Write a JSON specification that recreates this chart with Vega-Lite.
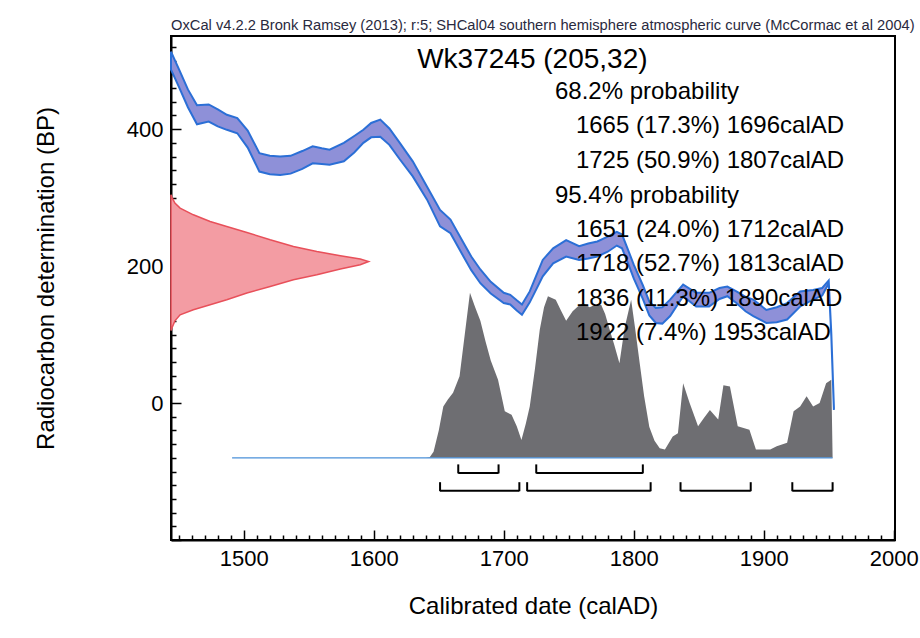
{
  "$schema": "https://vega.github.io/schema/vega-lite/v6.json",
  "autosize": {"type": "none"},
  "width": 724,
  "height": 504,
  "padding": {"left": 171, "top": 36, "right": 25, "bottom": 98},
  "background": "white",
  "title": {
    "text": "OxCal v4.2.2 Bronk Ramsey (2013); r:5; SHCal04 southern hemisphere atmospheric curve (McCormac et al 2004)",
    "anchor": "start", "frame": "group", "fontSize": 14.7, "fontWeight": "normal",
    "font": "Liberation Sans", "color": "#2a2a40", "offset": 3
  },
  "datasets": {
    "curve": [
      {"year":1444,"bp":487,"hi":513},{"year":1450,"bp":462,"hi":488},{"year":1457,"bp":432,"hi":458},
      {"year":1464,"bp":407,"hi":435},{"year":1473,"bp":411,"hi":436},{"year":1480,"bp":404,"hi":429},
      {"year":1487,"bp":399,"hi":421},{"year":1495,"bp":394,"hi":416},{"year":1503,"bp":373,"hi":398},
      {"year":1512,"bp":338,"hi":365},{"year":1520,"bp":334,"hi":361},{"year":1528,"bp":333,"hi":360},
      {"year":1536,"bp":335,"hi":361},{"year":1545,"bp":342,"hi":368},{"year":1553,"bp":350,"hi":375},
      {"year":1560,"bp":349,"hi":372},{"year":1566,"bp":348,"hi":370},{"year":1577,"bp":353,"hi":380},
      {"year":1585,"bp":366,"hi":390},{"year":1592,"bp":380,"hi":399},{"year":1598,"bp":388,"hi":409},
      {"year":1605,"bp":389,"hi":414},{"year":1612,"bp":377,"hi":401},{"year":1620,"bp":356,"hi":380},
      {"year":1630,"bp":331,"hi":353},{"year":1641,"bp":297,"hi":316},{"year":1651,"bp":258,"hi":282},
      {"year":1659,"bp":248,"hi":268},{"year":1669,"bp":214,"hi":234},{"year":1675,"bp":194,"hi":214},
      {"year":1682,"bp":175,"hi":195},{"year":1690,"bp":160,"hi":177},{"year":1700,"bp":146,"hi":161},
      {"year":1705,"bp":144,"hi":158},{"year":1710,"bp":135,"hi":150},{"year":1714,"bp":129,"hi":144},
      {"year":1720,"bp":147,"hi":163},{"year":1725,"bp":166,"hi":186},{"year":1730,"bp":185,"hi":209},
      {"year":1738,"bp":204,"hi":226},{"year":1748,"bp":214,"hi":238},{"year":1758,"bp":209,"hi":229},
      {"year":1765,"bp":211,"hi":233},{"year":1772,"bp":214,"hi":236},{"year":1780,"bp":221,"hi":243},
      {"year":1787,"bp":230,"hi":250},{"year":1791,"bp":226,"hi":246},{"year":1796,"bp":202,"hi":222},
      {"year":1800,"bp":182,"hi":202},{"year":1807,"bp":152,"hi":172},{"year":1812,"bp":128,"hi":148},
      {"year":1817,"bp":117,"hi":139},{"year":1822,"bp":116,"hi":140},{"year":1828,"bp":127,"hi":151},
      {"year":1838,"bp":156,"hi":173},{"year":1848,"bp":141,"hi":161},{"year":1858,"bp":141,"hi":161},
      {"year":1866,"bp":152,"hi":168},{"year":1872,"bp":156,"hi":170},{"year":1879,"bp":146,"hi":163},
      {"year":1886,"bp":134,"hi":155},{"year":1892,"bp":127,"hi":151},{"year":1902,"bp":117,"hi":136},
      {"year":1910,"bp":118,"hi":140},{"year":1918,"bp":122,"hi":146},{"year":1928,"bp":141,"hi":163},
      {"year":1938,"bp":151,"hi":165},{"year":1945,"bp":157,"hi":168},{"year":1950,"bp":175,"hi":179},
      {"year":1952,"bp":98,"hi":102},{"year":1954,"bp":-10,"hi":-6}
    ],
    "red": [
      {"bp":304,"year":1444},{"bp":300,"year":1444.8},{"bp":292,"year":1447},{"bp":284.7,"year":1451},
      {"bp":274.9,"year":1461.2},{"bp":265.1,"year":1474.1},{"bp":257.8,"year":1486.9},{"bp":249.1,"year":1502.4},
      {"bp":238.4,"year":1520.3},{"bp":228.6,"year":1538.2},{"bp":221.3,"year":1556.2},{"bp":215,"year":1574.3},
      {"bp":210.2,"year":1589.6},{"bp":206.7,"year":1596},{"bp":201.9,"year":1589.6},{"bp":195.6,"year":1574.3},
      {"bp":187.3,"year":1556.2},{"bp":180,"year":1538.2},{"bp":170.2,"year":1520.3},{"bp":160.6,"year":1502.4},
      {"bp":150.8,"year":1486.9},{"bp":143.5,"year":1474.1},{"bp":136.2,"year":1461.2},{"bp":128.9,"year":1451},
      {"bp":120,"year":1447},{"bp":110,"year":1444.8},{"bp":106,"year":1444}
    ],
    "gray": [
      {"year":1640,"bp":-80},{"year":1643,"bp":-79},{"year":1646,"bp":-71},{"year":1650,"bp":-40},
      {"year":1653.5,"bp":-5},{"year":1657,"bp":5},{"year":1661,"bp":15},{"year":1666,"bp":39},
      {"year":1670,"bp":100},{"year":1674,"bp":161},{"year":1678,"bp":140},{"year":1682,"bp":120},
      {"year":1686,"bp":90},{"year":1690,"bp":62},{"year":1695.6,"bp":34},{"year":1700.8,"bp":-12},
      {"year":1706,"bp":-17},{"year":1710,"bp":-34},{"year":1713.6,"bp":-54},{"year":1717,"bp":-30},
      {"year":1720,"bp":-5},{"year":1724,"bp":50},{"year":1727.7,"bp":107},{"year":1731,"bp":140},
      {"year":1734,"bp":156},{"year":1740,"bp":151},{"year":1744,"bp":135},{"year":1748,"bp":120},
      {"year":1753,"bp":134},{"year":1757,"bp":141},{"year":1761,"bp":146},{"year":1766,"bp":140},
      {"year":1770,"bp":143},{"year":1775,"bp":143},{"year":1778,"bp":130},{"year":1781.5,"bp":107},
      {"year":1785,"bp":85},{"year":1789,"bp":58},{"year":1793,"bp":110},{"year":1798,"bp":151},
      {"year":1801,"bp":110},{"year":1804.6,"bp":58},{"year":1808,"bp":10},{"year":1812,"bp":-35},
      {"year":1816,"bp":-55},{"year":1820,"bp":-66},{"year":1824,"bp":-68},{"year":1830,"bp":-49},
      {"year":1834,"bp":-44},{"year":1838,"bp":29},{"year":1843,"bp":0},{"year":1849.5,"bp":-34},
      {"year":1854,"bp":-22},{"year":1858.6,"bp":-10},{"year":1865,"bp":-24},{"year":1869,"bp":26},
      {"year":1874,"bp":24},{"year":1880,"bp":-34},{"year":1889,"bp":-39},{"year":1894,"bp":-68},
      {"year":1905,"bp":-68},{"year":1910,"bp":-63},{"year":1918,"bp":-58},{"year":1923,"bp":-12},
      {"year":1928,"bp":-5},{"year":1933,"bp":10},{"year":1938,"bp":-5},{"year":1943,"bp":0},
      {"year":1948,"bp":29},{"year":1952,"bp":34},{"year":1953,"bp":-80}
    ],
    "baseline": [{"year":1491,"bp":-80},{"year":1953,"bp":-80}],
    "brackets": [
      {"year":1665,"end":1696,"bp":-102},{"year":1725,"end":1807,"bp":-102},
      {"year":1651,"end":1712,"bp":-128},{"year":1718,"end":1813,"bp":-128},
      {"year":1836,"end":1890,"bp":-128},{"year":1922,"end":1953,"bp":-128}
    ],
    "bracketEnds": [
      {"year":1665,"bp":-102},{"year":1696,"bp":-102},{"year":1725,"bp":-102},{"year":1807,"bp":-102},
      {"year":1651,"bp":-128},{"year":1712,"bp":-128},{"year":1718,"bp":-128},{"year":1813,"bp":-128},
      {"year":1836,"bp":-128},{"year":1890,"bp":-128},{"year":1922,"bp":-128},{"year":1953,"bp":-128}
    ],
    "labels": [
      {"t":"68.2% probability","year":1739.4,"bp":454},
      {"t":"1665 (17.3%) 1696calAD","year":1755.5,"bp":404},
      {"t":"1725 (50.9%) 1807calAD","year":1755.5,"bp":354},
      {"t":"95.4% probability","year":1739.4,"bp":303},
      {"t":"1651 (24.0%) 1712calAD","year":1755.5,"bp":253},
      {"t":"1718 (52.7%) 1813calAD","year":1755.5,"bp":203},
      {"t":"1836 (11.3%) 1890calAD","year":1755.5,"bp":152},
      {"t":"1922 (7.4%) 1953calAD","year":1755.5,"bp":102}
    ],
    "head": [{"t":"Wk37245 (205,32)","year":1722,"bp":501}]
  },
  "encoding": {
    "x": {"field": "year", "type": "quantitative",
          "scale": {"domain": [1444, 2001], "nice": false, "zero": false},
          "title": "Calibrated date (calAD)",
          "axis": {
            "values": [1450,1460,1470,1480,1490,1500,1510,1520,1530,1540,1550,1560,1570,1580,1590,1600,1610,1620,1630,1640,1650,1660,1670,1680,1690,1700,1710,1720,1730,1740,1750,1760,1770,1780,1790,1800,1810,1820,1830,1840,1850,1860,1870,1880,1890,1900,1910,1920,1930,1940,1950,1960,1970,1980,1990,2000],
            "labelExpr": "datum.value % 100 === 0 ? datum.label : ''",
            "format": "d",
            "tickSize": {"condition": {"test": "datum.value % 100 === 0", "value": -10}, "value": -5},
            "labelPadding": 18, "labelOverlap": false, "labelFlush": false,
            "titlePadding": 20
          }},
    "y": {"field": "bp", "type": "quantitative",
          "scale": {"domain": [-200, 536], "nice": false, "zero": false},
          "title": "Radiocarbon determination (BP)",
          "axis": {
            "values": [-200,-180,-160,-140,-120,-100,-80,-60,-40,-20,0,20,40,60,80,100,120,140,160,180,200,220,240,260,280,300,320,340,360,380,400,420,440,460,480,500,520],
            "labelExpr": "datum.value >= 0 && datum.value % 200 === 0 ? datum.label : ''",
            "tickSize": {"condition": {"test": "datum.value % 200 === 0", "value": -10}, "value": -5},
            "labelPadding": 18, "labelOverlap": false, "labelFlush": false,
            "titlePadding": 68, "titleY": 242
          }}
  },
  "layer": [
    {
      "data": {"name": "red"},
      "mark": {"type": "area", "orient": "horizontal", "fill": "#f39ca3", "stroke": "#e8505a", "strokeWidth": 1.5, "opacity": 1},
      "encoding": {"x2": {"datum": 1444}}
    },
    {
      "data": {"name": "curve"},
      "mark": {"type": "area", "fill": "#8e90d8", "stroke": "#2b6fd6", "strokeWidth": 2, "opacity": 1},
      "encoding": {"y2": {"field": "hi"}}
    },
    {
      "data": {"name": "gray"},
      "mark": {"type": "area", "color": "#6e6e72", "opacity": 1},
      "encoding": {"y2": {"datum": -80}}
    },
    {
      "data": {"name": "baseline"},
      "mark": {"type": "line", "color": "#4a90d9", "strokeWidth": 1.2}
    },
    {
      "data": {"name": "brackets"},
      "mark": {"type": "rule", "color": "black", "strokeWidth": 2},
      "encoding": {"x2": {"field": "end"}}
    },
    {
      "data": {"name": "bracketEnds"},
      "mark": {"type": "tick", "orient": "vertical", "color": "black", "size": 9, "thickness": 2, "yOffset": -4, "opacity": 1}
    },
    {
      "data": {"name": "labels"},
      "mark": {"type": "text", "align": "left", "baseline": "middle", "fontSize": 24, "font": "Liberation Sans", "color": "black"},
      "encoding": {"text": {"field": "t"}}
    },
    {
      "data": {"name": "head"},
      "mark": {"type": "text", "align": "center", "baseline": "middle", "fontSize": 28, "font": "Liberation Sans", "color": "black"},
      "encoding": {"text": {"field": "t"}}
    }
  ],
  "config": {
    "view": {"stroke": "black", "strokeWidth": 2},
    "font": "Liberation Sans",
    "axis": {
      "grid": false,
      "domainColor": "black", "domainWidth": 2,
      "tickColor": "black", "tickWidth": 1.5,
      "labelFont": "Liberation Sans", "labelFontSize": 22, "labelColor": "black",
      "titleFont": "Liberation Sans", "titleFontSize": 24, "titleFontWeight": "normal", "titleColor": "black"
    }
  }
}
